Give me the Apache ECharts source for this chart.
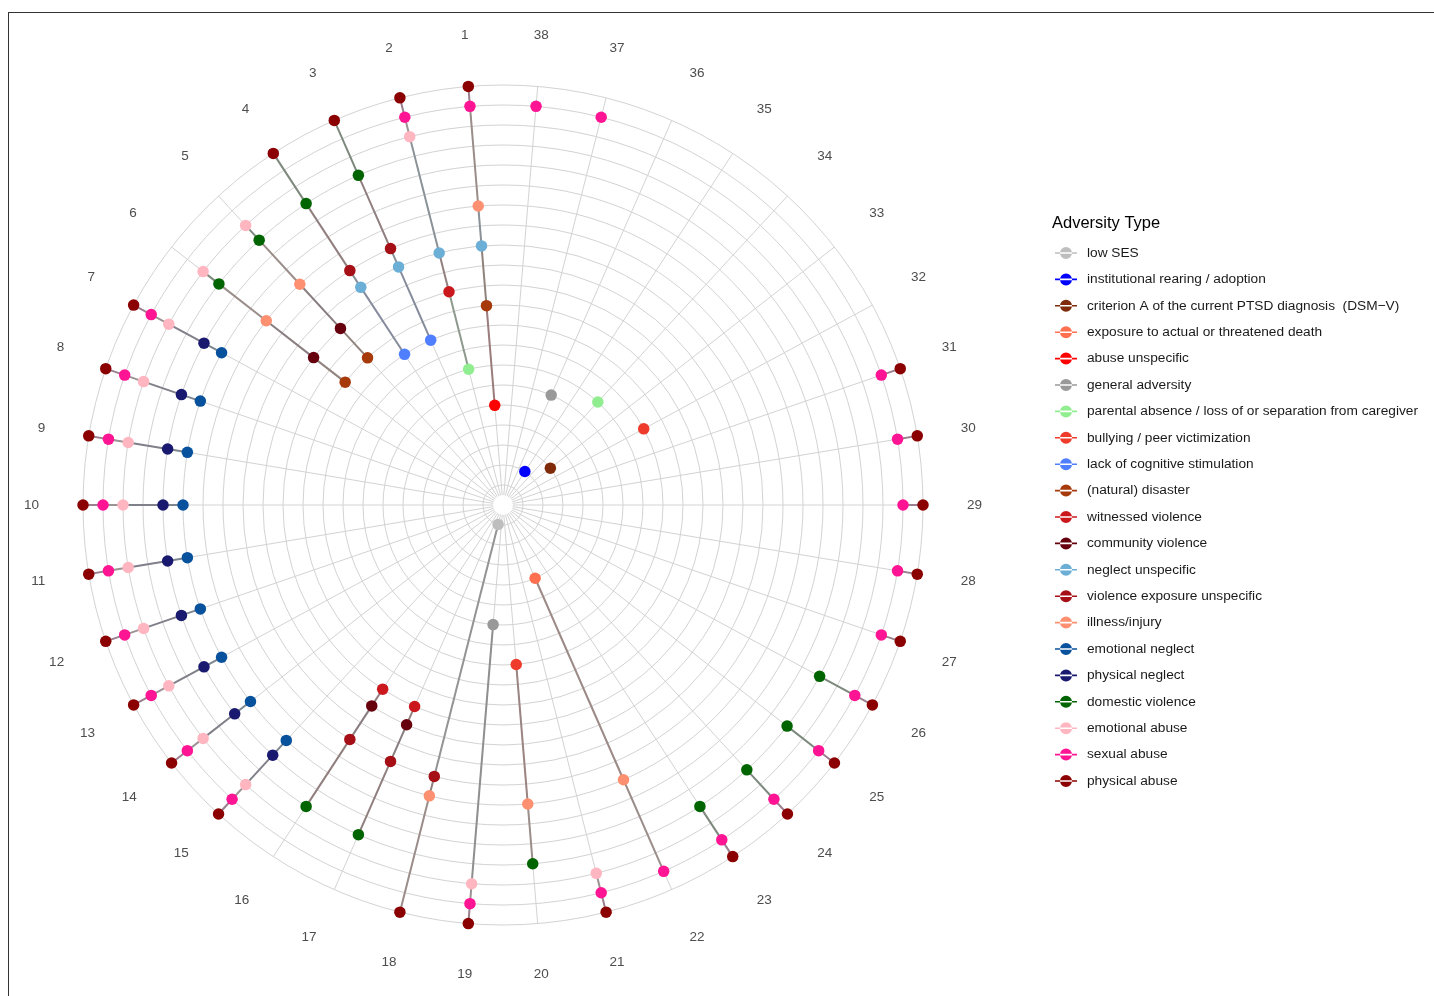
<!DOCTYPE html>
<html>
<head>
<meta charset="utf-8">
<title>Adversity Type</title>
<script src="https://cdn.jsdelivr.net/npm/echarts@6/dist/echarts.min.js"></script>
<style>
html, body { margin: 0; padding: 0; background: #fff; }
#main { width: 1434px; height: 996px; }
#frame { position: absolute; left: 8px; top: 12px; right: 0; bottom: 0; border-left: 1px solid #333; border-top: 1px solid #333; pointer-events: none; }
#err { position: absolute; left: 20px; top: 20px; font: 12px monospace; color: #c00; white-space: pre; }
</style>
</head>
<body>
<div id="main"></div>
<div id="frame"></div>
<div id="err"></div>
<script>
// spoke labels (one per study)
var spokes = ['1','2','3','4','5','6','7','8','9','10','11','12','13','14','15','16','17','18','19',
              '20','21','22','23','24','25','26','27','28','29','30','31','32','33','34','35','36','37','38'];

// adversity types, inner ring first (ring number = position in this list)
var types = ['low SES', 'institutional rearing / adoption', 'criterion A of the current PTSD diagnosis  (DSM\u2212V)',
  'exposure to actual or threatened death', 'abuse unspecific', 'general adversity',
  'parental absence / loss of or separation from caregiver', 'bullying / peer victimization',
  'lack of cognitive stimulation', '(natural) disaster', 'witnessed violence', 'community violence',
  'neglect unspecific', 'violence exposure unspecific', 'illness/injury', 'emotional neglect',
  'physical neglect', 'domestic violence', 'emotional abuse', 'sexual abuse', 'physical abuse'];

var typeColors = ['#bebebe', '#0000ff', '#7f2a08', '#ff7050', '#ff0000', '#999999', '#90ee90', '#ef3b2c',
  '#4f7fff', '#a63a0a', '#cb181d', '#67000d', '#6baed6', '#a50f15', '#fc9070', '#08519c',
  '#191970', '#006400', '#ffb6c1', '#ff1493', '#8b0000'];

// spokes on which each adversity type was reported
var lowSES = [18];
var institutionalRearing = [35];
var criterionA = [33];
var threatenedDeath = [22];
var abuseUnspecific = [1];
var generalAdversity = [19, 36];
var parentalAbsence = [2, 34];
var bullying = [20, 32];
var lackOfStimulation = [3, 4];
var disaster = [1, 5, 6];
var witnessedViolence = [2, 16, 17];
var communityViolence = [5, 6, 16, 17];
var neglectUnspecific = [1, 2, 3, 4];
var violenceUnspecific = [3, 4, 16, 17, 18];
var illnessInjury = [1, 5, 6, 18, 20, 22];
var emotionalNeglect = [7, 8, 9, 10, 11, 12, 13, 14, 15];
var physicalNeglect = [7, 8, 9, 10, 11, 12, 13, 14, 15];
var domesticViolence = [3, 4, 5, 6, 16, 17, 20, 23, 24, 25, 26];
var emotionalAbuse = [2, 5, 6, 7, 8, 9, 10, 11, 12, 13, 14, 15, 19, 21];
var sexualAbuse = [1, 2, 7, 8, 9, 10, 11, 12, 13, 14, 15, 19, 21, 22, 23, 24, 25, 26, 27, 28, 29, 30, 31, 37, 38];
var physicalAbuse = [1, 2, 3, 4, 7, 8, 9, 10, 11, 12, 13, 14, 15, 18, 19, 21, 23, 24, 25, 26, 27, 28, 29, 30, 31];

var typeSpokes = [lowSES, institutionalRearing, criterionA, threatenedDeath, abuseUnspecific, generalAdversity,
  parentalAbsence, bullying, lackOfStimulation, disaster, witnessedViolence, communityViolence,
  neglectUnspecific, violenceUnspecific, illnessInjury, emotionalNeglect, physicalNeglect,
  domesticViolence, emotionalAbuse, sexualAbuse, physicalAbuse];

var font = 'Liberation Sans, Arial, Helvetica, sans-serif';

// mix two hex colours
function mix(a, b, t) {
  var pa = [1, 3, 5].map(function(k) { return parseInt(a.substr(k, 2), 16); });
  var pb = [1, 3, 5].map(function(k) { return parseInt(b.substr(k, 2), 16); });
  return 'rgb(' + pa.map(function(v, k) { return Math.round(v * (1 - t) + pb[k] * t); }).join(',') + ')';
}

var series = [];

// 每个 spoke 的连线 (segments between consecutive rings)
var levelsBySpoke = {};
typeSpokes.forEach(function(list, ti) {
  list.forEach(function(s) {
    (levelsBySpoke[s] = levelsBySpoke[s] || []).push(ti + 1);
  });
});
Object.keys(levelsBySpoke).forEach(function(s) {
  var lv = levelsBySpoke[s].sort(function(a, b) { return a - b; });
  for (var k = 0; k < lv.length - 1; k++) {
    series.push({
      type: 'line',
      coordinateSystem: 'polar',
      data: [[lv[k], String(s)], [lv[k + 1], String(s)]],
      showSymbol: false,
      symbol: 'none',
      silent: true,
      z: 2,
      lineStyle: { color: mix('#8e8e8e', typeColors[lv[k] - 1], 0.12), width: 2 }
    });
  }
});

// points
types.forEach(function(name, ti) {
  series.push({
    name: name,
    type: 'scatter',
    coordinateSystem: 'polar',
    symbolSize: 11.5,
    z: 3,
    itemStyle: { color: typeColors[ti], opacity: 1 },
    data: typeSpokes[ti].map(function(s) { return [ti + 1, String(s)]; })
  });
});

var legendIcon = 'path://M0,5.2H22V6.8H0Z M5,6A6,6 0 1 0 17,6A6,6 0 1 0 5,6Z';

try {
  var myChart = echarts.init(document.getElementById('main'));
  var option = {
    backgroundColor: '#ffffff',
    animation: false,
    title: {
      text: 'Adversity Type',
      left: 1052, top: 215, padding: 0,
      textStyle: { fontFamily: font, fontSize: 16.5, fontWeight: 'normal', color: '#000' }
    },
    legend: {
      orient: 'vertical',
      left: 1055, top: 246, padding: 0,
      itemWidth: 22, itemHeight: 12, itemGap: 12.4,
      selectedMode: false,
      icon: legendIcon,
      data: types,
      textStyle: { fontFamily: font, fontSize: 13.7, color: '#1a1a1a', lineHeight: 14, padding: [0, 0, 0, 5] }
    },
    // small empty hole in the middle of the grid
    graphic: [{
      type: 'circle', z: 1, silent: true,
      shape: { cx: 503, cy: 505, r: 10 },
      style: { fill: '#ffffff' }
    }],
    polar: { center: [503, 505], radius: [0, 420] },
    angleAxis: {
      type: 'category', data: spokes, boundaryGap: true,
      startAngle: 90, clockwise: false,
      axisLine: { show: false },
      axisTick: { show: false, alignWithLabel: true },
      axisLabel: { interval: 0, color: '#4d4d4d', fontSize: 13.5, fontFamily: font, margin: 44 },
      splitLine: { show: true, lineStyle: { color: '#d3d3d3', width: 1 } }
    },
    radiusAxis: {
      type: 'value', min: 0, max: 21, interval: 1,
      axisLine: { show: false }, axisTick: { show: false }, axisLabel: { show: false },
      splitLine: { show: true, lineStyle: { color: '#d3d3d3', width: 1 } }
    },
    series: series
  };
  myChart.setOption(option);
} catch (e) {
  document.getElementById('err').textContent = String(e && e.stack || e);
}
</script>
</body>
</html>
